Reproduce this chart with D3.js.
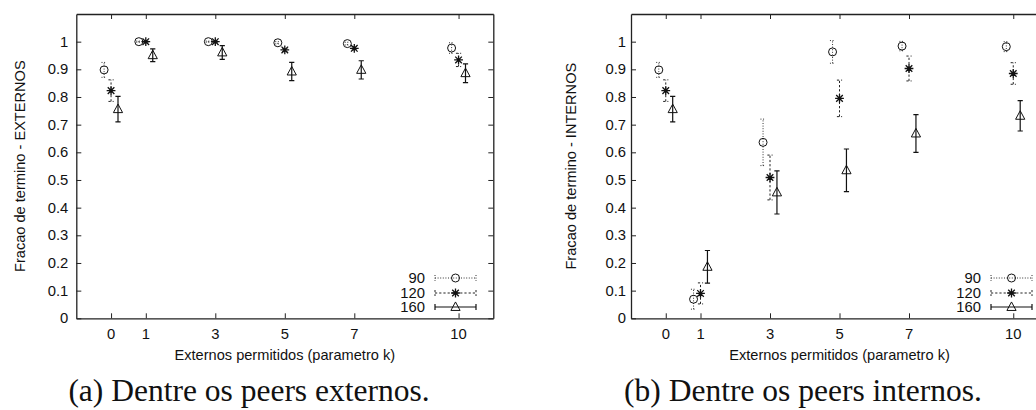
<!DOCTYPE html>
<html>
<head>
<meta charset="utf-8">
<script src="https://cdn.jsdelivr.net/npm/d3@7"></script>
<style>
  html, body { margin: 0; padding: 0; background: #fff; }
  svg { display: block; }
  .tick-label, .axis-title, .legend-label { font-family: "Liberation Sans", Arial, sans-serif; fill: #111; }
  .caption { font-family: "Liberation Serif", "Times New Roman", serif; fill: #111; }
</style>
</head>
<body>
<svg id="chart" width="1036" height="410"></svg>
<script>
// k values on the x axis
const kValues = [0, 1, 3, 5, 7, 10];
const xTickLabels = ["0", "1", "3", "5", "7", "10"];
const yTickValues = [0, 0.1, 0.2, 0.3, 0.4, 0.5, 0.6, 0.7, 0.8, 0.9, 1];
const seriesNames = ["90", "120", "160"];

// (a) fraction finished among external peers: mean and error
const ext90 = [0.898, 1.0, 1.0, 0.996, 0.993, 0.977];
const ext90Err = [0.027, 0.002, 0.002, 0.004, 0.005, 0.019];
const ext120 = [0.823, 1.0, 1.0, 0.970, 0.976, 0.934];
const ext120Err = [0.039, 0.002, 0.002, 0.006, 0.006, 0.024];
const ext160 = [0.756, 0.951, 0.961, 0.892, 0.898, 0.886];
const ext160Err = [0.046, 0.023, 0.025, 0.033, 0.033, 0.034];

// (b) fraction finished among internal peers: mean and error
const int90 = [0.898, 0.069, 0.636, 0.963, 0.984, 0.982];
const int90Err = [0.027, 0.036, 0.084, 0.041, 0.017, 0.018];
const int120 = [0.823, 0.090, 0.509, 0.795, 0.903, 0.885];
const int120Err = [0.039, 0.038, 0.081, 0.066, 0.045, 0.039];
const int160 = [0.756, 0.186, 0.455, 0.535, 0.668, 0.732];
const int160Err = [0.046, 0.059, 0.078, 0.077, 0.068, 0.055];

const svg = d3.select("#chart");
svg.append("rect").attr("width", 1036).attr("height", 410).attr("fill", "#fff");

const styles = [
  { dash: "1,1.6", width: 1, color: "#333", marker: "circle", offset: -0.2 },
  { dash: "2.2,2", width: 1, color: "#222", marker: "star", offset: 0 },
  { dash: null, width: 1.2, color: "#111", marker: "triangle", offset: 0.2 }
];

function drawMarker(g, type, cx, cy) {
  if (type === "circle") {
    g.append("circle").attr("cx", cx).attr("cy", cy).attr("r", 4)
      .attr("fill", "none").attr("stroke", "#111").attr("stroke-width", 1);
  } else if (type === "star") {
    const s = 4.4, d = s * 0.75;
    const p = d3.path();
    p.moveTo(cx - s, cy); p.lineTo(cx + s, cy);
    p.moveTo(cx, cy - s); p.lineTo(cx, cy + s);
    p.moveTo(cx - d, cy - d); p.lineTo(cx + d, cy + d);
    p.moveTo(cx - d, cy + d); p.lineTo(cx + d, cy - d);
    g.append("path").attr("d", p.toString()).attr("fill", "none")
      .attr("stroke", "#111").attr("stroke-width", 1.3);
  } else {
    const s = 4.6;
    g.append("path")
      .attr("d", `M${cx},${cy - s * 1.1}L${cx + s},${cy + s * 0.75}L${cx - s},${cy + s * 0.75}Z`)
      .attr("fill", "none").attr("stroke", "#111").attr("stroke-width", 1);
  }
}

function drawPanel(opts) {
  const { left, width, top, bottom, means, errs, yTitle, caption, captionX, tickGap, legendTextX } = opts;
  const g = svg.append("g");
  const x = d3.scaleLinear().domain([-1, 11]).range([left, left + width]);
  const y = d3.scaleLinear().domain([0, 1.1]).range([bottom, top]);

  // axes with inward ticks, mirrored on the opposite sides
  const tickLen = 5;
  const bottomAxis = d3.axisBottom(x).tickValues(kValues).tickSizeInner(-tickLen).tickSizeOuter(0).tickFormat("");
  const topAxis = d3.axisTop(x).tickValues(kValues).tickSizeInner(-tickLen).tickSizeOuter(0).tickFormat("");
  const leftAxis = d3.axisLeft(y).tickValues(yTickValues).tickSizeInner(-tickLen).tickSizeOuter(0).tickFormat("");
  const rightAxis = d3.axisRight(y).tickValues(yTickValues).tickSizeInner(-tickLen).tickSizeOuter(0).tickFormat("");

  const axes = [
    [bottomAxis, `translate(0,${bottom})`],
    [topAxis, `translate(0,${top})`],
    [leftAxis, `translate(${left},0)`],
    [rightAxis, `translate(${left + width},0)`]
  ];
  axes.forEach(([ax, tr]) => {
    const a = g.append("g").attr("transform", tr).call(ax);
    a.select(".domain").attr("stroke", "#222").attr("stroke-width", 1.3);
    a.selectAll(".tick line").attr("stroke", "#222").attr("stroke-width", 1);
  });

  // tick labels
  g.selectAll(".xlab").data(kValues).enter().append("text")
    .attr("class", "tick-label").attr("x", d => x(d)).attr("y", bottom + 21)
    .attr("text-anchor", "middle").attr("font-size", 14.8)
    .text((d, i) => xTickLabels[i]);
  g.selectAll(".ylab").data(yTickValues).enter().append("text")
    .attr("class", "tick-label").attr("x", left - tickGap).attr("y", d => y(d) + 5)
    .attr("text-anchor", "end").attr("font-size", 14.8)
    .text(d => d3.format("~g")(d));

  // axis titles
  g.append("text").attr("class", "axis-title").attr("font-size", 14.6)
    .attr("x", left + width / 2).attr("y", bottom + 42).attr("text-anchor", "middle")
    .text("Externos permitidos (parametro k)");
  g.append("text").attr("class", "axis-title").attr("font-size", 14.6)
    .attr("transform", `translate(${opts.yTitleX},${(top + bottom) / 2}) rotate(-90)`)
    .attr("text-anchor", "middle").attr("dy", "0.35em")
    .text(yTitle);

  // error bars and points
  means.forEach((vals, si) => {
    const st = styles[si];
    const sg = g.append("g");
    vals.forEach((v, i) => {
      const cx = x(kValues[i] + st.offset);
      const y0 = y(v - errs[si][i]), y1 = y(v + errs[si][i]);
      const p = d3.path();
      p.moveTo(cx, y0); p.lineTo(cx, y1);
      p.moveTo(cx - 2.6, y0); p.lineTo(cx + 2.6, y0);
      p.moveTo(cx - 2.6, y1); p.lineTo(cx + 2.6, y1);
      sg.append("path").attr("d", p.toString()).attr("fill", "none")
        .attr("stroke", st.color).attr("stroke-width", st.width)
        .attr("stroke-dasharray", st.dash);
    });
    vals.forEach((v, i) => drawMarker(sg, st.marker, x(kValues[i] + st.offset), y(v)));
  });

  // legend
  const rows = [278, 293, 307];
  const lx0 = legendTextX + 10, lx1 = legendTextX + 51;
  seriesNames.forEach((name, si) => {
    const st = styles[si];
    const ry = rows[si];
    g.append("text").attr("class", "legend-label").attr("font-size", 14.8)
      .attr("x", legendTextX).attr("y", ry + 5).attr("text-anchor", "end").text(name);
    const p = d3.path();
    p.moveTo(lx0, ry); p.lineTo(lx1, ry);
    p.moveTo(lx0, ry - 3); p.lineTo(lx0, ry + 3);
    p.moveTo(lx1, ry - 3); p.lineTo(lx1, ry + 3);
    g.append("path").attr("d", p.toString()).attr("fill", "none")
      .attr("stroke", st.color).attr("stroke-width", st.width)
      .attr("stroke-dasharray", st.dash);
    drawMarker(g, st.marker, (lx0 + lx1) / 2, ry);
  });

  // caption
  svg.append("text").attr("class", "caption").attr("font-size", 31.5)
    .attr("x", captionX).attr("y", 401).attr("text-anchor", "middle").text(caption);
}

drawPanel({
  left: 76.3, width: 417, top: 14, bottom: 318.3,
  means: [ext90, ext120, ext160], errs: [ext90Err, ext120Err, ext160Err],
  yTitle: "Fracao de termino - EXTERNOS", yTitleX: 20, tickGap: 8,
  legendTextX: 425, caption: "(a) Dentre os peers externos.", captionX: 249
});

drawPanel({
  left: 631, width: 417, top: 14, bottom: 318.3,
  means: [int90, int120, int160], errs: [int90Err, int120Err, int160Err],
  yTitle: "Fracao de termino - INTERNOS", yTitleX: 571, tickGap: 5,
  legendTextX: 981, caption: "(b) Dentre os peers internos.", captionX: 803
});
</script>
</body>
</html>
